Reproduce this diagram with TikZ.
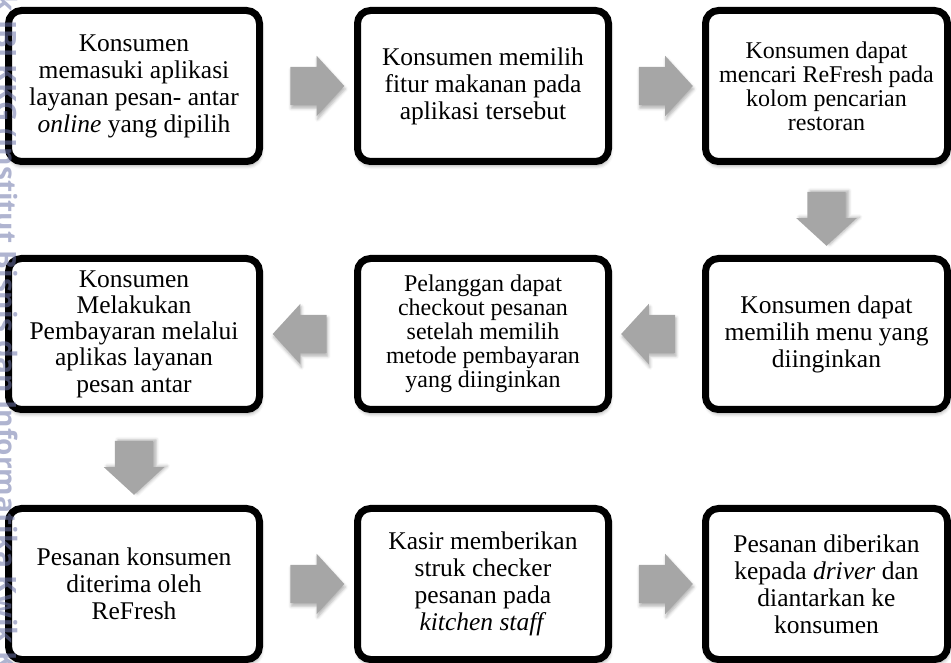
\documentclass[tikz,border=0pt]{standalone}
\usepackage{fontspec}
\setmainfont{Liberation Serif}
\newfontfamily\wmfont{Open Sans}
\usetikzlibrary{shapes.arrows,shadows.blur,calc}
\definecolor{arrowgray}{RGB}{166,166,166}
\definecolor{wmblue}{RGB}{110,118,170}

\begin{document}
\begin{tikzpicture}[x=1pt,y=1pt,
  stepbox/.style={draw=black, line width=7pt, rounded corners=13pt, fill=white,
    minimum width=251pt, minimum height=151pt, align=center, inner sep=0pt,
    font=\fontsize{25.5}{27}\selectfont,
    blur shadow={shadow xshift=1pt, shadow yshift=-4pt, shadow blur radius=4pt, shadow opacity=40}},
  smalltext/.style={font=\fontsize{24}{24}\selectfont},
  flowarrow/.style={single arrow, fill=arrowgray, draw=none,
    minimum height=54pt, inner xsep=0pt, inner ysep=19pt,
    single arrow head extend=11pt, single arrow tip angle=95},
  flowside/.style={flowarrow, shape border rotate=#1,
    blur shadow={shadow xshift=1pt, shadow yshift=-3pt, shadow blur radius=3pt, shadow opacity=30}},
  flowdown/.style={flowarrow, rotate=-90,
    blur shadow={shadow xshift=3pt, shadow yshift=1pt, shadow blur radius=3pt, shadow opacity=30}},
  wmtext/.style={rotate=-90, inner sep=0pt, text=wmblue, opacity=0.55,
    font=\wmfont\bfseries\fontsize{28}{28}\selectfont}]
\useasboundingbox (0,0) rectangle (951,662);

% first row
\node[stepbox] (s1) at (134,576) {Konsumen\\memasuki aplikasi\\layanan pesan- antar\\\textit{online} yang dipilih};
\node[stepbox] (s2) at (483,576) {Konsumen memilih\\fitur makanan pada\\aplikasi tersebut};
\node[stepbox,smalltext,minimum width=242pt] (s3) at (826.5,576) {Konsumen dapat\\mencari ReFresh pada\\kolom pencarian\\restoran};

% second row
\node[stepbox,minimum width=242pt] (s4) at (826.5,328) {Konsumen dapat\\memilih menu yang\\diinginkan};
\node[stepbox,smalltext] (s5) at (483,328) {Pelanggan dapat\\checkout pesanan\\setelah memilih\\metode pembayaran\\yang diinginkan};
\node[stepbox,font=\fontsize{25.5}{26.3}\selectfont] (s6) at (134,328) {Konsumen\\Melakukan\\Pembayaran melalui\\aplikas layanan\\pesan antar};

% third row
\node[stepbox] (s7) at (134,78) {Pesanan konsumen\\diterima oleh\\ReFresh};
\node[stepbox] (s8) at (483,78) {Kasir memberikan\\struk checker\\pesanan pada\\\textit{kitchen staff}};
\node[stepbox,minimum width=242pt] (s9) at (826.5,78) {Pesanan diberikan\\kepada \textit{driver} dan\\diantarkan ke\\konsumen};

% arrows
\node[flowside=0] (a12) at ($(s1.east)!0.5!(s2.west)$) {};
\node[flowside=0] (a23) at ($(s2.east)!0.5!(s3.west)$) {};
\node[flowdown] (a34) at ($(s3.south)!0.5!(s4.north)$) {};
\node[flowside=180] (a45) at ($(s4.west)!0.5!(s5.east)$) {};
\node[flowside=180] (a56) at ($(s5.west)!0.5!(s6.east)$) {};
\node[flowdown] (a67) at ($(s6.south)!0.5!(s7.north)$) {};
\node[flowside=0] (a78) at ($(s7.east)!0.5!(s8.west)$) {};
\node[flowside=0] (a89) at ($(s8.east)!0.5!(s9.west)$) {};

% watermark
\node[wmtext, anchor=base west] (wm) at (-3,642)
  {IBI KKG (Institut Bisnis dan Informatika Kwik Kian Gie)};
\node[wmtext, anchor=base east] (wmpre) at ($(wm.base west)+(0,8)$)
  {Hak cipta milik};
\end{tikzpicture}
\end{document}
